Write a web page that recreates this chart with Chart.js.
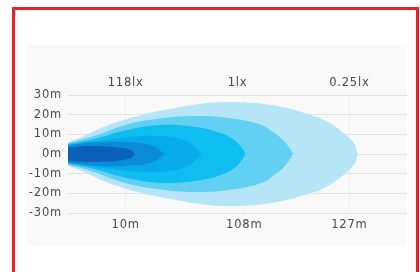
<!DOCTYPE html>
<html>
<head>
<meta charset="utf-8">
<script src="https://cdn.jsdelivr.net/npm/chart.js@4.4.0/dist/chart.umd.min.js"></script>
<style>
    html, body { margin: 0; padding: 0; background: #fff; }
    #wrap { position: relative; width: 420px; height: 272px; overflow: hidden; }
    #frame { position: absolute; left: 12px; top: 7px; width: 401px; height: 280px; border: 3px solid #e8212a; }
    #panel { position: absolute; left: 27px; top: 45px; width: 380px; height: 200px; background: #f9f9f9; }
    #c { position: absolute; left: 0; top: 0; }
</style>
</head>
<body>
<div id="wrap">
    <div id="frame"></div>
    <div id="panel"></div>
    <canvas id="c" width="420" height="272"></canvas>
</div>
<script>
// axis labels
const yTicks = [-30, -20, -10, 0, 10, 20, 30];
const topLabels = ['118lx', '1lx', '0.25lx'];
const topPos = [17, 50, 83];
const bottomLabels = ['10m', '108m', '127m'];
const bottomPos = [17, 52, 83];

// beam contours: distance (0-100 axis units) and half width (m)
const outerX = [0, 3.5, 12.4, 22.1, 32.2, 41.9, 51.6, 61.7, 71.4, 76.5, 81, 84.3, 85.5];
const outerH = [6, 8.3, 15, 20, 23.5, 26, 26.3, 24.4, 20, 16.5, 11, 5.5, 0];
const midX = [0, 7.4, 17.4, 27.1, 36.9, 46.9, 56.6, 61, 64.3, 66.4];
const midH = [5.5, 9, 15, 18, 19.3, 18.4, 15, 10.5, 5.5, 0];
const innerX = [0, 7.4, 17.4, 27.1, 36.9, 44.8, 49.5, 52.5];
const innerH = [5, 7.5, 12.2, 14.7, 13.9, 10.8, 6.5, 0];
const coreX = [0, 10, 20, 28, 35, 39.5];
const coreH = [4.5, 7, 9, 9, 6.5, 0];
const haloX = [0, 8, 18, 25, 28.5];
const haloH = [4.5, 6, 6, 4.2, 0];
const hotX = [0, 4, 10, 15, 18.5, 19.8];
const hotH = [3.5, 4, 4, 3.3, 2, 0];

function contour(xs, hs) {
    const upper = xs.map((x, i) => ({ x: x, y: hs[i] }));
    const lower = xs.map((x, i) => ({ x: x, y: -hs[i] })).reverse();
    return upper.concat(lower);
}

function beam(xs, hs, color) {
    return {
        data: contour(xs, hs),
        showLine: true,
        fill: 'shape',
        backgroundColor: color,
        borderWidth: 0,
        borderColor: 'transparent',
        pointRadius: 0,
        tension: 0.4
    };
}

// labels in the picture are drawn wide
const spacing = {
    id: 'spacing',
    beforeDraw(chart) { chart.ctx.letterSpacing = '0.8px'; },
    afterDraw(chart) { chart.ctx.letterSpacing = '0px'; }
};

const tickFont = { family: 'DejaVu Sans', size: 11.5 };
const tickColor = '#4a4a4a';

new Chart(document.getElementById('c'), {
    type: 'scatter',
    data: {
        datasets: [
            beam(hotX, hotH, '#0b60b8'),
            beam(haloX, haloH, '#0a8cd6'),
            beam(coreX, coreH, '#06abe8'),
            beam(innerX, innerH, '#0fbdf0'),
            beam(midX, midH, '#62d0f3'),
            beam(outerX, outerH, '#b6e5f8')
        ]
    },
    options: {
        responsive: false,
        animation: false,
        layout: { padding: { left: 0, right: 13, top: 0, bottom: 0 } },
        plugins: { legend: { display: false }, tooltip: { enabled: false } },
        scales: {
            x: {
                type: 'linear',
                position: 'bottom',
                min: 0,
                max: 100,
                afterBuildTicks: (s) => { s.ticks = bottomPos.map(v => ({ value: v })); },
                afterFit: (s) => { s.height = 59; },
                ticks: {
                    autoSkip: false,
                    maxRotation: 0,
                    padding: 5,
                    color: tickColor,
                    font: tickFont,
                    callback: (v, i) => bottomLabels[i]
                },
                grid: { color: '#f0f0f0', drawTicks: false },
                border: { display: false }
            },
            x2: {
                type: 'linear',
                position: 'top',
                min: 0,
                max: 100,
                afterBuildTicks: (s) => { s.ticks = topPos.map(v => ({ value: v })); },
                afterFit: (s) => { s.height = 95; },
                ticks: {
                    autoSkip: false,
                    maxRotation: 0,
                    padding: 5,
                    color: tickColor,
                    font: tickFont,
                    callback: (v, i) => topLabels[i]
                },
                grid: { display: false, drawTicks: false },
                border: { display: false }
            },
            y: {
                min: -30,
                max: 30,
                afterBuildTicks: (s) => { s.ticks = yTicks.map(v => ({ value: v })); },
                afterFit: (s) => { s.width = 68; },
                ticks: {
                    padding: 6,
                    color: tickColor,
                    font: tickFont,
                    callback: (v) => v + 'm'
                },
                grid: { color: '#e2e2e2', drawTicks: false },
                border: { display: false }
            }
        }
    },
    plugins: [spacing]
});
</script>
</body>
</html>
